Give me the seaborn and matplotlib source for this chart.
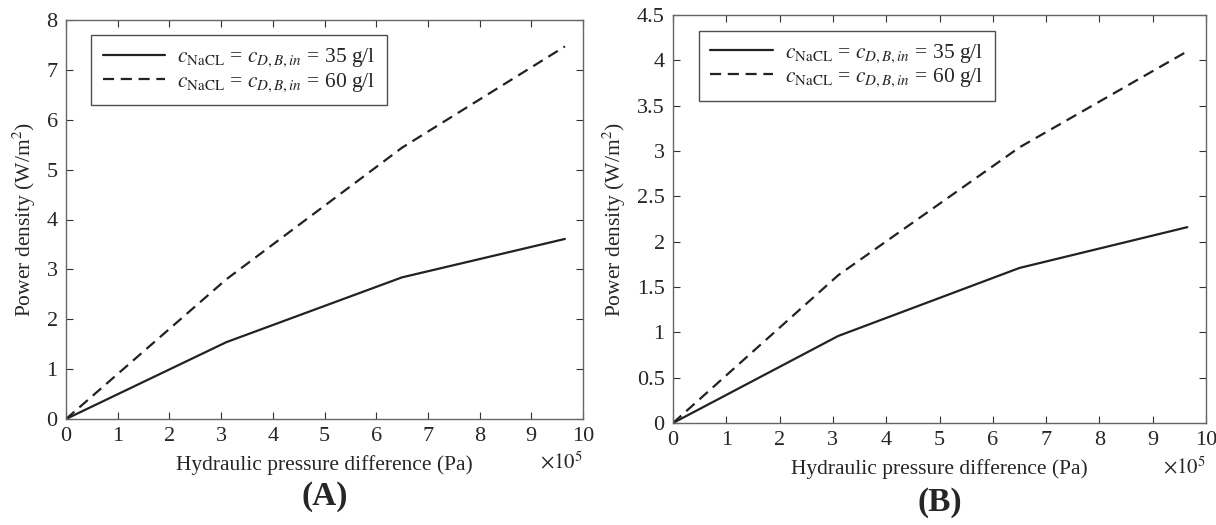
import numpy as np
import pandas as pd
import seaborn as sns
import matplotlib.pyplot as plt

# Values (x in units of 1e5 Pa)
pressure = [0, 3.1, 6.5, 9.65]
power_a_35 = [0, 1.54, 2.84, 3.61]
power_a_60 = [0, 2.80, 5.44, 7.47]
power_b_35 = [0, 0.96, 1.71, 2.16]
power_b_60 = [0, 1.63, 3.04, 4.10]

label_35 = r'$c_{\mathrm{NaCL}}$ = $c_{D,B,in}$ = 35 g/l'
label_60 = r'$c_{\mathrm{NaCL}}$ = $c_{D,B,in}$ = 60 g/l'

sns.set_style('ticks')
plt.rcParams['font.family'] = ['Liberation Serif', 'DejaVu Serif']
plt.rcParams['mathtext.fontset'] = 'stix'
plt.rcParams['xtick.direction'] = 'in'
plt.rcParams['ytick.direction'] = 'in'

fig = plt.figure(figsize=(12.16, 5.25), dpi=100)
ax_a = fig.add_axes([66 / 1216, 1 - 419 / 525, (583 - 66) / 1216, (419 - 20) / 525])
ax_b = fig.add_axes([673 / 1216, 1 - 423 / 525, (1206 - 673) / 1216, (423 - 15) / 525])

panels = [
    (ax_a, power_a_35, power_a_60, 8, np.arange(0, 9, 1), '(A)'),
    (ax_b, power_b_35, power_b_60, 4.5, np.arange(0, 4.51, 0.5), '(B)'),
]

for ax, p35, p60, ymax, yticks, tag in panels:
    df = pd.DataFrame({
        'pressure': pressure * 2,
        'power': p35 + p60,
        'case': [label_35] * len(pressure) + [label_60] * len(pressure),
    })
    sns.lineplot(data=df, x='pressure', y='power', style='case',
                 dashes={label_35: '', label_60: (5, 3)},
                 color='#222222', linewidth=1.6, ax=ax)
    ax.set_xlim(0, 10)
    ax.set_ylim(0, ymax)
    ax.set_xticks(range(0, 11))
    ax.set_yticks(yticks)
    ax.set_yticklabels([f'{t:g}' for t in yticks])
    ax.tick_params(top=True, right=True, labelsize=16, length=5, width=0.8,
                   color='#333333')
    ax.tick_params(axis='x', pad=6)
    ax.tick_params(axis='y', pad=6)
    for sp in ax.spines.values():
        sp.set_color('#666666')
        sp.set_linewidth(1.0)
    ax.set_xlabel('Hydraulic pressure difference (Pa)', fontsize=15.5, labelpad=6)
    ax.set_ylabel('Power density (W/m$^2$)', fontsize=15.5, labelpad=6)
    ax.text(1.0, -0.11, r'$\times10^5$', transform=ax.transAxes,
            ha='right', va='center', fontsize=15)
    ax.text(0.5, -0.195, tag, transform=ax.transAxes, ha='center', va='center',
            fontsize=24, fontweight='bold')
    leg = ax.legend(loc='upper left', bbox_to_anchor=(0.048, 0.962), fontsize=15.5,
                    frameon=True, fancybox=False, edgecolor='#222222',
                    handlelength=2.9, borderpad=0.55, labelspacing=0.08,
                    handletextpad=0.55, borderaxespad=0)
    leg.get_frame().set_linewidth(1.0)
    leg.set_title(None)

fig.savefig('out.png', dpi=100)
